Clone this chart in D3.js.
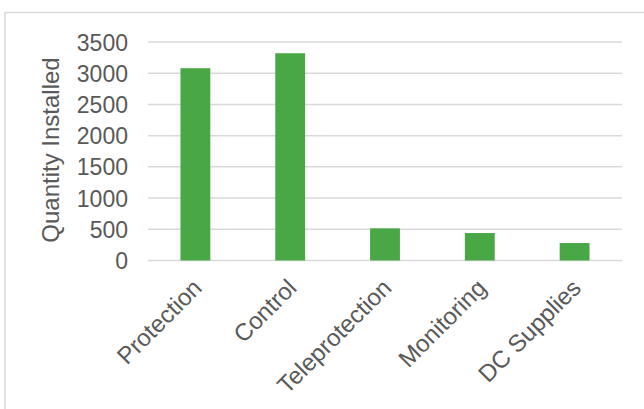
<!DOCTYPE html>
<html>
<head>
<meta charset="utf-8">
<script src="https://cdn.jsdelivr.net/npm/d3@7"></script>
<style>
  html, body { margin: 0; padding: 0; background: #fff; }
  svg { display: block; }
  text { font-family: "Liberation Sans", Arial, sans-serif; fill: #595959; }
</style>
</head>
<body>
<svg id="chart" width="644" height="409"></svg>
<script>
// Installed equipment by category
const categories = ["Protection", "Control", "Teleprotection", "Monitoring", "DC Supplies"];
const quantities = [3080, 3320, 515, 440, 280];
const yTicks = [0, 500, 1000, 1500, 2000, 2500, 3000, 3500];
const yTitle = "Quantity Installed";

const svg = d3.select("#chart");
const W = 644, H = 409;
const plot = { left: 148, right: 622, top: 42, bottom: 260.5 };

// outer chart frame
svg.append("rect")
  .attr("x", 5).attr("y", 12.5)
  .attr("width", W + 20).attr("height", H + 20)
  .attr("fill", "none").attr("stroke", "#d9d9d9").attr("stroke-width", 1.5);

const x = d3.scaleBand()
  .domain(categories)
  .range([plot.left, plot.right])
  .paddingInner(0.685)
  .paddingOuter(0.3425);

const y = d3.scaleLinear()
  .domain([0, 3500])
  .range([plot.bottom, plot.top]);

// horizontal gridlines
svg.append("g")
  .selectAll("line")
  .data(yTicks)
  .join("line")
  .attr("x1", plot.left).attr("x2", plot.right)
  .attr("y1", d => y(d)).attr("y2", d => y(d))
  .attr("stroke", "#d9d9d9").attr("stroke-width", 1.5);

// y axis labels
const yAxis = d3.axisLeft(y).tickValues(yTicks).tickSize(0).tickPadding(0).tickFormat(d3.format("d"));
const gy = svg.append("g").attr("transform", `translate(${plot.left - 20},0)`).call(yAxis);
gy.select(".domain").remove();
gy.selectAll("text")
  .attr("font-size", 23)
  .attr("fill", "#595959")
  .attr("font-family", "Liberation Sans, Arial, sans-serif")
  .attr("dy", "0.35em");

// bars
svg.append("g")
  .selectAll("rect")
  .data(categories)
  .join("rect")
  .attr("x", d => x(d))
  .attr("width", x.bandwidth())
  .attr("y", (d, i) => y(quantities[i]))
  .attr("height", (d, i) => y(0) - y(quantities[i]))
  .attr("fill", "#4aa746");

// category labels, rotated
svg.append("g")
  .selectAll("text")
  .data(categories)
  .join("text")
  .attr("transform", d => `translate(${x(d) + x.bandwidth() / 2 - 4},${plot.bottom + 17}) rotate(-45)`)
  .attr("text-anchor", "end")
  .attr("dy", "0.7em")
  .attr("font-size", 24)
  .text(d => d);

// y axis title
svg.append("text")
  .attr("transform", `translate(${59},${150}) rotate(-90)`)
  .attr("text-anchor", "middle")
  .attr("font-size", 24)
  .text(yTitle);
</script>
</body>
</html>
